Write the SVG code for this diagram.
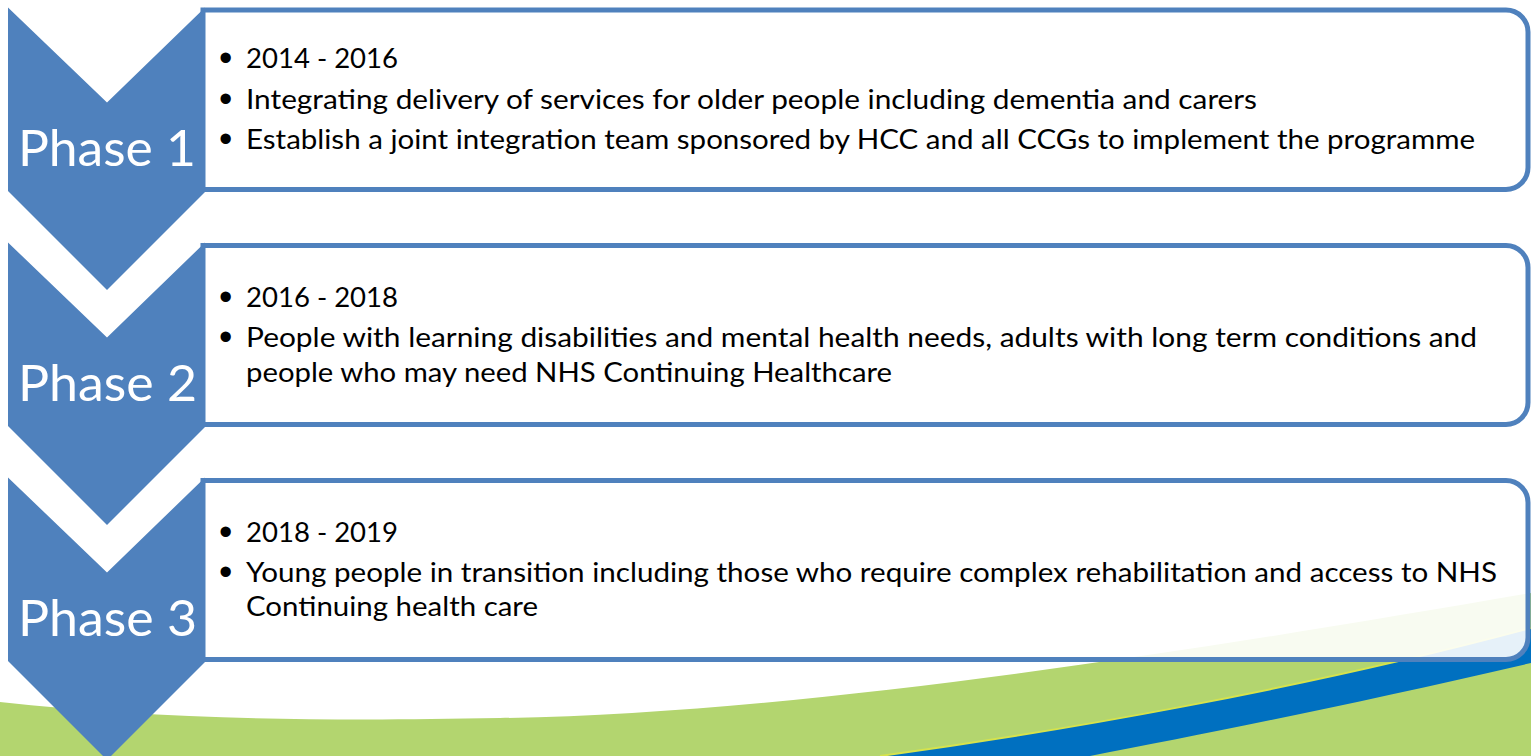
<svg xmlns="http://www.w3.org/2000/svg" width="1531" height="756" viewBox="0 0 1531 756">
<style>
.chev{fill:#4F81BD}
.box{fill:#FFFFFF;fill-opacity:0.9;stroke:#4F81BD;stroke-width:5}
.ph{font-family:Lato,"Liberation Sans",sans-serif;font-size:50px;fill:#FFFFFF}
.tx{font-family:Lato,"Liberation Sans",sans-serif;font-size:27px;fill:#000000}
.bl{font-family:"Liberation Sans",sans-serif;font-size:38px;fill:#000000}
</style>
<g id="background">
<rect x="0" y="0" width="1531" height="756" fill="#FFFFFF"/>
<path d="M0,702 C150,718 300,722 500,718 C800,714 1200,650 1531,593 L1531,756 L0,756 Z" fill="#B3D56F"/>
<path d="M880,756 C1050,733 1300,690 1531,628 L1531,663 C1350,705 1200,735 1090,756 Z" fill="#0070C0"/>
<path d="M880,756 C1050,733 1300,690 1531,628" fill="none" stroke="#D6E34C" stroke-width="2"/>
</g>
<g id="connectors"></g>
<g id="box1">
<path class="box" d="M203,10 H1506 A22,22 0 0 1 1528,32 V167.5 A22,22 0 0 1 1506,189.5 H203 Z"/>
<text class="bl" x="219" y="71">•</text>
<text class="tx" x="246" y="68" textLength="152" lengthAdjust="spacingAndGlyphs">2014 - 2016</text>
<text class="bl" x="219" y="112">•</text>
<text class="tx" x="246" y="109" textLength="1011" lengthAdjust="spacingAndGlyphs">Integrating delivery of services for older people including dementia and carers</text>
<text class="bl" x="219" y="152">•</text>
<text class="tx" x="246" y="149" textLength="1229" lengthAdjust="spacingAndGlyphs">Establish a joint integration team sponsored by HCC and all CCGs to implement the programme</text>
</g>
<g id="box2">
<path class="box" d="M203,245.5 H1506 A22,22 0 0 1 1528,267.5 V402.5 A22,22 0 0 1 1506,424.5 H203 Z"/>
<text class="bl" x="219" y="310">•</text>
<text class="tx" x="246" y="307" textLength="152" lengthAdjust="spacingAndGlyphs">2016 - 2018</text>
<text class="bl" x="219" y="350">•</text>
<text class="tx" x="246" y="347" textLength="1231" lengthAdjust="spacingAndGlyphs">People with learning disabilities and mental health needs, adults with long term conditions and</text>
<text class="tx" x="246" y="382" textLength="646" lengthAdjust="spacingAndGlyphs">people who may need NHS Continuing Healthcare</text>
</g>
<g id="box3">
<path class="box" d="M203,480.5 H1506 A22,22 0 0 1 1528,502.5 V637.5 A22,22 0 0 1 1506,659.5 H203 Z"/>
<text class="bl" x="219" y="545">•</text>
<text class="tx" x="246" y="542" textLength="152" lengthAdjust="spacingAndGlyphs">2018 - 2019</text>
<text class="bl" x="219" y="585">•</text>
<text class="tx" x="246" y="582" textLength="1251" lengthAdjust="spacingAndGlyphs">Young people in transition including those who require complex rehabilitation and access to NHS</text>
<text class="tx" x="246" y="616" textLength="292" lengthAdjust="spacingAndGlyphs">Continuing health care</text>
</g>
<g id="phase1">
<path class="chev" d="M8,7.5 L107,102.5 L205,7.5 L205,192 L107,290 L8,191 Z"/>
<text class="ph" x="18" y="166" textLength="178" lengthAdjust="spacingAndGlyphs">Phase 1</text>
</g>
<g id="phase2">
<path class="chev" d="M8,242.5 L107,337.5 L205,242.5 L205,427 L107,525 L8,426 Z"/>
<text class="ph" x="18" y="401" textLength="179" lengthAdjust="spacingAndGlyphs">Phase 2</text>
</g>
<g id="phase3">
<path class="chev" d="M8,477.5 L107,572.5 L205,477.5 L205,662 L107,760 L8,661 Z"/>
<text class="ph" x="18" y="636" textLength="179" lengthAdjust="spacingAndGlyphs">Phase 3</text>
</g>
</svg>
